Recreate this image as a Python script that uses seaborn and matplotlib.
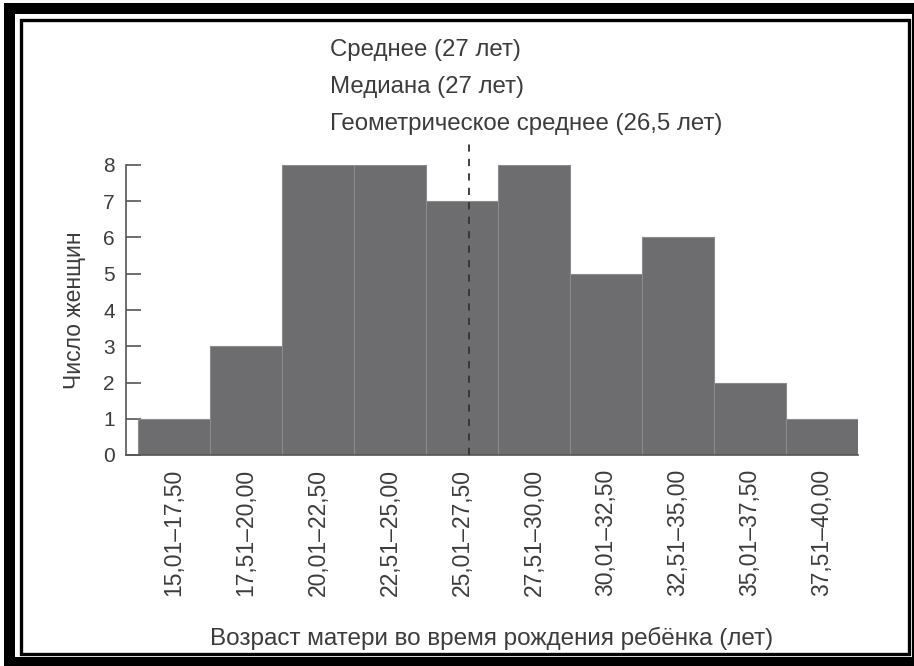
import numpy as np
import pandas as pd
import matplotlib
matplotlib.use('Agg')
import matplotlib.pyplot as plt
import seaborn as sns
from matplotlib.patches import Rectangle

# данные гистограммы
bin_edges = [15.0, 17.5, 20.0, 22.5, 25.0, 27.5, 30.0, 32.5, 35.0, 37.5, 40.0]
counts = [1, 3, 8, 8, 7, 8, 5, 6, 2, 1]
bin_labels = ['15,01–17,50', '17,51–20,00', '20,01–22,50', '22,51–25,00', '25,01–27,50',
              '27,51–30,00', '30,01–32,50', '32,51–35,00', '35,01–37,50', '37,51–40,00']
line_pos = 26.5
notes = ['Среднее (27 лет)', 'Медиана (27 лет)', 'Геометрическое среднее (26,5 лет)']

centers = [(a + b) / 2 for a, b in zip(bin_edges[:-1], bin_edges[1:])]
df = pd.DataFrame({'age': centers, 'n': counts})

sns.set_style('white')
plt.rcParams['font.family'] = ['Liberation Sans Narrow', 'Liberation Sans', 'DejaVu Sans']
txt = '#3c3c3c'

W, H = 914, 666
fig = plt.figure(figsize=(W / 100, H / 100), dpi=100)

def px(x0, y0, x1, y1):
    # прямоугольник в пикселях -> доли фигуры
    return (x0 / W, 1 - y1 / H), (x1 - x0) / W, (y1 - y0) / H

# рамка
for (x0, y0, x1, y1, fc, ec, lw) in [(4, 3, 914, 666, 'black', 'none', 0),
                                      (15, 14, 912, 657, 'white', 'none', 0),
                                      (20.5, 20, 909, 653.5, 'none', 'black', 2.4)]:
    xy, w, h = px(x0, y0, x1, y1)
    fig.patches.append(Rectangle(xy, w, h, transform=fig.transFigure, figure=fig,
                                 facecolor=fc, edgecolor=ec, linewidth=lw, zorder=-10))

ax = fig.add_axes([126 / W, 1 - 455 / H, (858 - 126) / W, (455 - 165) / H])
ax.patch.set_alpha(0)

sns.histplot(data=df, x='age', weights='n', bins=bin_edges, ax=ax,
             color='#6d6d70', edgecolor='#8c8c8e', linewidth=0.8, alpha=1)

ax.axvline(line_pos, ymin=0, ymax=8.6 / 8, color='#333333', linestyle=(0, (4, 4)),
           linewidth=1.3, clip_on=False, zorder=5)

ax.set_xlim(15 - 12 / 28.8, 40)
ax.set_ylim(0, 8)
ax.set_yticks(range(9))
ax.set_yticklabels([str(i) for i in range(9)], fontsize=15, color=txt)
ax.set_xticks(centers)
ax.set_xticklabels(bin_labels, rotation=90, fontsize=16.5, color=txt)
ax.tick_params(axis='y', left=True, direction='in', length=11, width=1.2,
               color='#555555', pad=8)
ax.tick_params(axis='x', bottom=False, length=0, pad=10)

sns.despine(ax=ax, top=True, right=True)
for s in ['left', 'bottom']:
    ax.spines[s].set_color('#555555')
    ax.spines[s].set_linewidth(1.2)

ax.set_ylabel('Число женщин', fontsize=16.5, color=txt, labelpad=12)
ax.set_xlabel('Возраст матери во время рождения ребёнка (лет)', fontsize=17.5, color=txt,
              labelpad=22)

for i, t in enumerate(notes):
    fig.text(330 / W, 1 - (50 + i * 37) / H, t, fontsize=17.3, color=txt,
             ha='left', va='center')

fig.savefig('out.png', dpi=100)
